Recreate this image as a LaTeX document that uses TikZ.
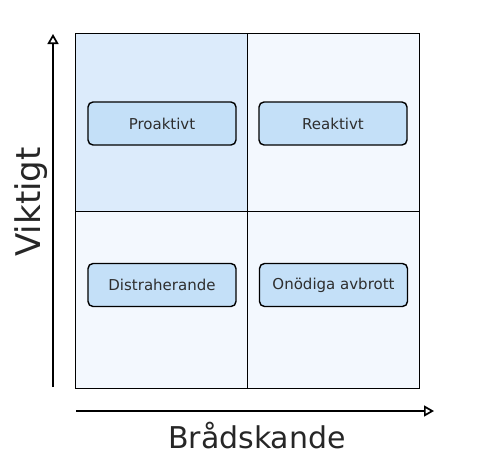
\documentclass[tikz,border=0pt]{standalone}
\usepackage{fontspec}
\setmainfont{DejaVu Sans}
\usepackage{xcolor}
\usepackage{tikz}
\usetikzlibrary{arrows.meta}
\usetikzlibrary{positioning}
\definecolor{quaddark}{HTML}{DCEBFB}
\definecolor{quadlight}{HTML}{F3F8FE}
\definecolor{taskfill}{HTML}{C4E0F8}
\definecolor{inkgray}{HTML}{2E2E2E}
\tikzset{
quadrant/.style = { rectangle, draw = black, line width = 1.4pt, minimum width = 172pt, minimum height = 177.5pt, inner sep = 0pt },
task/.style = { rectangle, draw = black, fill = taskfill, line width = 1.4pt, minimum width = 148pt, minimum height = 43pt, rounded corners = 5pt, text = inkgray, font = \fontsize{15}{17}\selectfont },
axislabel/.style = { text = black!85, inner sep = 0pt },
axis/.style = { draw = black, line width = 1.7pt, -{Triangle[open, length = 10pt, width = 11pt, line width = 1.7pt]} },
}

\begin{document}
\begin{tikzpicture}[x=1pt, y=-1pt]
      \useasboundingbox (0,0) rectangle (482,466);
      % quadrants
      \node[quadrant, fill = quaddark] (ul) at (161.5, 122.5) {};
      \node[quadrant, fill = quadlight] (ur) at (333.5, 122.5) {};
      \node[quadrant, fill = quadlight] (ll) at (161.5, 300) {};
      \node[quadrant, fill = quadlight] (lr) at (333.5, 300) {};
      % tasks
      \node[task] (pro) at (162, 123.5) {Proaktivt};
      \node[task] (rea) at (333, 123.5) {Reaktivt};
      \node[task] (dis) at (162, 285) {Distraherande};
      \node[task] (ono) at (333.5, 285) {Onödiga avbrott};
      % axes
      \coordinate (yfoot) at (53, 387);
      \coordinate (ytip) at (53, 34);
      \coordinate (xfoot) at (76, 411);
      \coordinate (xtip) at (434, 411);
      \draw[axis] (yfoot) -- (ytip);
      \draw[axis] (xfoot) -- (xtip);
      \node[axislabel, rotate = 90, font = \fontsize{34}{38}\selectfont] (vik) at (31, 202) {Viktigt};
      \node[axislabel, font = \fontsize{30}{34}\selectfont] (bra) at (257, 436) {Brådskande};
    \end{tikzpicture}
\end{document}
